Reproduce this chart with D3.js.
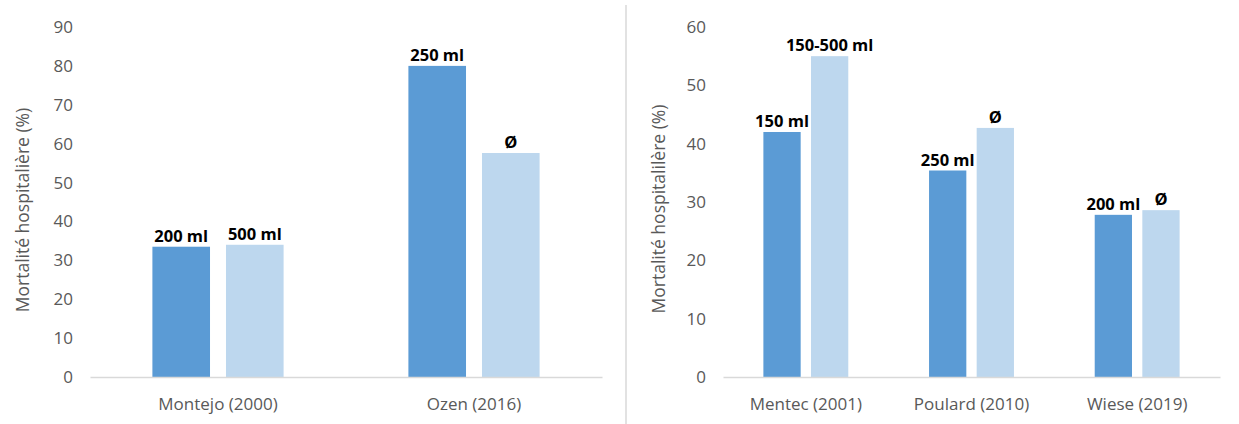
<!DOCTYPE html>
<html>
<head>
<meta charset="utf-8">
<script src="https://cdn.jsdelivr.net/npm/d3@7"></script>
<style>
  html, body { margin: 0; padding: 0; background: #ffffff; }
  svg { display: block; }
  .tick text { font-family: "Open Sans", sans-serif; fill: #595959; }
</style>
</head>
<body>
<svg id="chart" width="1239" height="424"></svg>
<script>
// Hospital mortality (%) by study: restrictive vs. liberal gastric residual volume
const seriesKeys = ["restrictive", "liberal"];
const seriesColors = ["#5b9bd5", "#bdd7ee"];

const leftStudies = ["Montejo (2000)", "Ozen (2016)"];
const leftRestrictive = [33.5, 80];
const leftLiberal = [34, 57.6];
const leftRestrictiveLabels = ["200 ml", "250 ml"];
const leftLiberalLabels = ["500 ml", "Ø"];
const leftTicks = [0, 10, 20, 30, 40, 50, 60, 70, 80, 90];
const leftTitle = "Mortalité hospitalière (%)";

const rightStudies = ["Mentec (2001)", "Poulard (2010)", "Wiese (2019)"];
const rightRestrictive = [42, 35.4, 27.8];
const rightLiberal = [55, 42.7, 28.6];
const rightRestrictiveLabels = ["150 ml", "250 ml", "200 ml"];
const rightLiberalLabels = ["150-500 ml", "Ø", "Ø"];
const rightTicks = [0, 10, 20, 30, 40, 50, 60];
const rightTitle = "Mortalité hospitalilère (%)";

const svg = d3.select("#chart");

function drawPanel(cfg) {
  const g = svg.append("g");
  const yMax = cfg.ticks[cfg.ticks.length - 1];
  const y = d3.scaleLinear().domain([0, yMax]).range([cfg.bottom, cfg.top]);
  const x0 = d3.scaleBand().domain(cfg.studies).range([cfg.left, cfg.right]).padding(0);
  const bw = x0.bandwidth();
  const x1 = d3.scaleBand().domain(seriesKeys)
    .range([0.24375 * bw, 0.75625 * bw]).paddingInner(0.217).paddingOuter(0);

  // y axis (labels only)
  const yAxis = g.append("g")
    .attr("transform", `translate(${cfg.left},0)`)
    .call(d3.axisLeft(y).tickValues(cfg.ticks).tickSize(0).tickPadding(17));
  yAxis.select(".domain").remove();
  yAxis.selectAll("text").style("font-size", "17px");

  // bars
  const rows = cfg.studies.map((s, i) => ({
    study: s,
    values: [
      { key: "restrictive", value: cfg.restrictive[i], label: cfg.restrictiveLabels[i] },
      { key: "liberal", value: cfg.liberal[i], label: cfg.liberalLabels[i] }
    ]
  }));
  const groups = g.selectAll("g.group").data(rows).join("g")
    .attr("class", "group")
    .attr("transform", d => `translate(${x0(d.study)},0)`);
  groups.selectAll("rect").data(d => d.values).join("rect")
    .attr("x", d => x1(d.key))
    .attr("width", x1.bandwidth())
    .attr("y", d => y(d.value))
    .attr("height", d => y(0) - y(d.value))
    .attr("fill", (d, i) => seriesColors[i]);
  groups.selectAll("text.lbl").data(d => d.values).join("text")
    .attr("class", "lbl")
    .attr("x", d => x1(d.key) + x1.bandwidth() / 2)
    .attr("y", d => y(d.value) - 5)
    .attr("text-anchor", "middle")
    .style("font-family", "'Open Sans', sans-serif")
    .style("font-weight", "700")
    .style("font-size", "16.5px")
    .style("fill", "#000000")
    .text(d => d.label);

  // x axis
  const xAxis = g.append("g")
    .attr("transform", `translate(0,${cfg.bottom})`)
    .call(d3.axisBottom(x0).tickSize(0).tickPadding(21).tickSizeOuter(0));
  xAxis.select(".domain").attr("stroke", "#d9d9d9").attr("stroke-width", 1.3);
  xAxis.selectAll("text").style("font-size", "17px");

  // y axis title
  g.append("text")
    .attr("transform", `translate(${cfg.titleX},${cfg.titleY}) rotate(-90)`)
    .attr("text-anchor", "middle")
    .attr("dominant-baseline", "central")
    .style("font-family", "'Open Sans', sans-serif")
    .style("font-size", "17.5px")
    .style("fill", "#595959")
    .text(cfg.title);
}

drawPanel({
  studies: leftStudies, restrictive: leftRestrictive, liberal: leftLiberal,
  restrictiveLabels: leftRestrictiveLabels, liberalLabels: leftLiberalLabels,
  ticks: leftTicks, title: leftTitle,
  left: 90, right: 602, top: 27, bottom: 377, titleX: 22, titleY: 210
});

drawPanel({
  studies: rightStudies, restrictive: rightRestrictive, liberal: rightLiberal,
  restrictiveLabels: rightRestrictiveLabels, liberalLabels: rightLiberalLabels,
  ticks: rightTicks, title: rightTitle,
  left: 723, right: 1220, top: 27, bottom: 377, titleX: 658, titleY: 209
});

// separator between the two panels
svg.append("line")
  .attr("x1", 626).attr("x2", 626).attr("y1", 5).attr("y2", 424)
  .attr("stroke", "#d9d9d9").attr("stroke-width", 1.5);
</script>
</body>
</html>
